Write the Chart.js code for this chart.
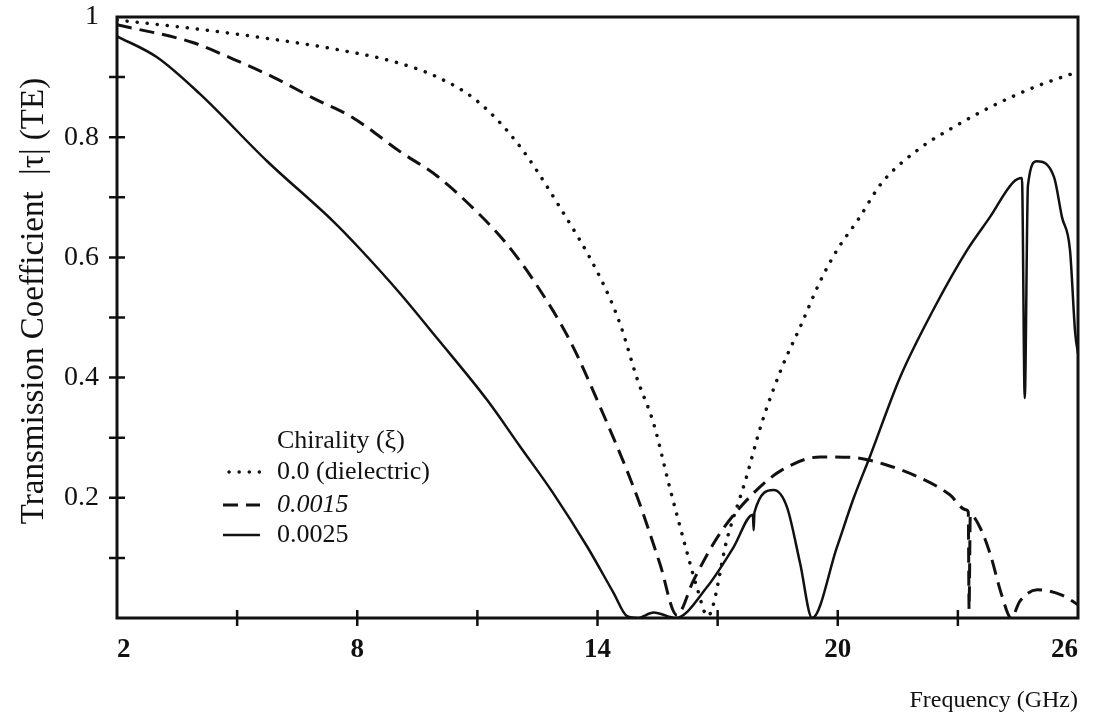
<!DOCTYPE html>
<html>
<head>
<meta charset="utf-8">
<script src="https://cdn.jsdelivr.net/npm/chart.js@4.4.1/dist/chart.umd.min.js"></script>
<style>
  html, body { margin: 0; padding: 0; background: #fff; }
  #wrap { width: 1099px; height: 725px; position: relative; }
</style>
</head>
<body>
<div id="wrap"><canvas id="chart"></canvas></div>
<script>
// ===== DATA =====
const xTickLabels = [2, 8, 14, 20, 26];
const xCrossTicks = [5, 8, 11, 14, 17, 20, 23];
const yTickLabels = [0, 0.2, 0.4, 0.6, 0.8, 1];
const yCrossTicks = [0.1, 0.2, 0.3, 0.4, 0.5, 0.6, 0.7, 0.8, 0.9];

const seriesNames = ['0.0 (dielectric)', '0.0015', '0.0025'];
const legendTitle = 'Chirality (\u03BE)';

// chirality 0.0 (dielectric) - dotted
const freqDielectric = [2, 4, 6, 7.4, 8.95, 10, 11, 12, 13, 14.1, 14.56, 15.0, 15.4, 15.8, 16.24, 16.5, 16.75,
  17.25, 17.7, 18.1, 18.6, 19.06, 19.56, 19.98, 20.5, 21.1, 22.0, 22.9, 23.9, 24.9, 26];
const tauDielectric = [0.995, 0.98, 0.962, 0.947, 0.925, 0.9, 0.86, 0.79, 0.69, 0.562, 0.49, 0.396, 0.324, 0.218, 0.108, 0.047, 0.003,
  0.135, 0.23, 0.324, 0.416, 0.484, 0.56, 0.612, 0.662, 0.724, 0.779, 0.817, 0.853, 0.883, 0.909];

// chirality 0.0015 - dashed
const freq15 = [2, 3.87, 4.9, 5.9, 6.9, 7.9, 9.07, 10, 11, 11.7, 12.4, 13.3, 14.1, 15.0, 15.56, 15.98,
  16.4, 17.06, 17.9, 18.6, 19.56, 20.4, 21.2, 22.0, 22.8, 23.2, 23.26, 23.28, 23.31,
  23.55, 23.8, 24.1, 24.33, 24.55, 24.98, 25.6, 26];
const tau15 = [0.987, 0.958, 0.93, 0.9, 0.865, 0.832, 0.776, 0.735, 0.675, 0.625, 0.562, 0.463, 0.346, 0.2, 0.09, 0.005,
  0.063, 0.141, 0.208, 0.246, 0.268, 0.267, 0.255, 0.235, 0.205, 0.18, 0.176, 0.015, 0.172,
  0.151, 0.108, 0.037, 0.0, 0.028, 0.047, 0.038, 0.022];

// chirality 0.0025 - solid
const freq25 = [2, 3.0, 4.07, 5.75, 7.4, 8.07, 9.07, 10, 11.24, 12.07, 12.9, 13.74, 14.4, 14.74, 15.0, 15.4, 15.95,
  16.74, 17.4, 17.88, 17.9, 17.92, 18.4, 18.73, 19.06, 19.36, 19.98, 20.4, 20.8, 21.56, 22.38, 23.23, 23.8,
  24.38, 24.6, 24.67, 24.75, 24.97, 25.4, 25.6, 25.8, 25.93, 26];
const tau25 = [0.968, 0.933, 0.872, 0.76, 0.66, 0.614, 0.54, 0.465, 0.363, 0.285, 0.207, 0.119, 0.042, 0.003, 0.0, 0.009, 0.0,
  0.052, 0.118, 0.172, 0.146, 0.176, 0.213, 0.185, 0.091, 0.0, 0.118, 0.2, 0.268, 0.401, 0.512, 0.612, 0.667,
  0.725, 0.732, 0.366, 0.72, 0.76, 0.734, 0.667, 0.612, 0.474, 0.44];

// ===== STYLE =====
const SERIF = "'Liberation Serif', 'Times New Roman', serif";
const INK = '#111';
const pairs = (xs, ys) => xs.map((x, i) => ({ x, y: ys[i] }));

// frame + cross ticks through the axes
const framePlugin = {
  id: 'frame',
  afterDraw(chart) {
    const { ctx, chartArea: a, scales: { x, y } } = chart;
    ctx.save();
    ctx.strokeStyle = INK;
    ctx.setLineDash([]);
    ctx.lineWidth = 3;
    ctx.strokeRect(a.left, a.top, a.right - a.left, a.bottom - a.top);
    ctx.lineWidth = 2.5;
    ctx.beginPath();
    xCrossTicks.forEach(v => {
      const px = x.getPixelForValue(v);
      ctx.moveTo(px, a.bottom - 8); ctx.lineTo(px, a.bottom + 8);
    });
    yCrossTicks.forEach(v => {
      const py = y.getPixelForValue(v);
      ctx.moveTo(a.left - 8, py); ctx.lineTo(a.left + 8, py);
    });
    ctx.stroke();
    ctx.restore();
  }
};

// legend sitting inside the plot, lower left
const legendPlugin = {
  id: 'chiralityLegend',
  afterDraw(chart) {
    const { ctx } = chart;
    const rowY = [472, 505, 535];
    const textX = 277;
    ctx.save();
    ctx.fillStyle = INK;
    ctx.textBaseline = 'middle';
    ctx.font = `26px ${SERIF}`;
    ctx.fillText(legendTitle, textX, 441);
    chart.data.datasets.forEach((ds, i) => {
      const yy = rowY[i];
      ctx.beginPath();
      ctx.strokeStyle = ds.borderColor;
      ctx.lineWidth = ds.borderWidth;
      ctx.lineCap = ds.borderCapStyle || 'butt';
      ctx.setLineDash(ds.borderDash || []);
      ctx.moveTo(i === 0 ? 229 : 223, yy);
      ctx.lineTo(i === 0 ? 264 : 260, yy);
      ctx.stroke();
      ctx.font = (ds.italicLabel ? 'italic ' : '') + `26px ${SERIF}`;
      ctx.fillText(ds.label, textX, yy);
    });
    ctx.restore();
  }
};

new Chart(document.getElementById('chart'), {
  type: 'line',
  data: {
    datasets: [
      { label: seriesNames[0], data: pairs(freqDielectric, tauDielectric), borderColor: INK, borderWidth: 3.5,
        borderDash: [0.1, 10], borderCapStyle: 'round', pointRadius: 0, cubicInterpolationMode: 'monotone', fill: false },
      { label: seriesNames[1], data: pairs(freq15, tau15), borderColor: INK, borderWidth: 3,
        borderDash: [15, 8], pointRadius: 0, cubicInterpolationMode: 'monotone', fill: false, italicLabel: true },
      { label: seriesNames[2], data: pairs(freq25, tau25), borderColor: INK, borderWidth: 2.5,
        pointRadius: 0, cubicInterpolationMode: 'monotone', fill: false }
    ]
  },
  options: {
    responsive: true, maintainAspectRatio: false, animation: false,
    layout: { padding: { left: 0, top: 0, right: 21, bottom: 0 } },
    plugins: { legend: { display: false }, tooltip: { enabled: false } },
    scales: {
      x: {
        type: 'linear', min: 2, max: 26,
        afterBuildTicks: s => { s.ticks = xTickLabels.map(v => ({ value: v })); },
        afterFit: s => { s.height = 107; },
        grid: { display: false, drawTicks: false },
        border: { display: false },
        ticks: { color: INK, align: 'inner', padding: 16, font: { family: SERIF, size: 27, weight: 'bold' } },
        title: { display: true, text: 'Frequency (GHz)', align: 'end', color: INK,
          padding: { top: 0, bottom: 10 }, font: { family: SERIF, size: 24 } }
      },
      y: {
        type: 'linear', min: 0, max: 1,
        afterBuildTicks: s => { s.ticks = yTickLabels.map(v => ({ value: v })); },
        // fixed axis width, and keep the plot top at the scan's frame line
        afterFit: s => { s.width = 117; s.paddingTop = 17; },
        grid: { display: false, drawTicks: false },
        border: { display: false },
        ticks: { color: INK, padding: 18, font: { family: SERIF, size: 28 },
          callback: v => v === 0 ? '' : (v === 1 ? '1' : v.toFixed(1)) },
        // leading spaces nudge the rotated title up a little, as in the scan
        title: { display: true, text: '    Transmission Coefficient  |\u03C4| (TE)', color: INK,
          padding: { top: 15, bottom: 0 }, font: { family: SERIF, size: 33 } }
      }
    }
  },
  plugins: [framePlugin, legendPlugin]
});
</script>
</body>
</html>
